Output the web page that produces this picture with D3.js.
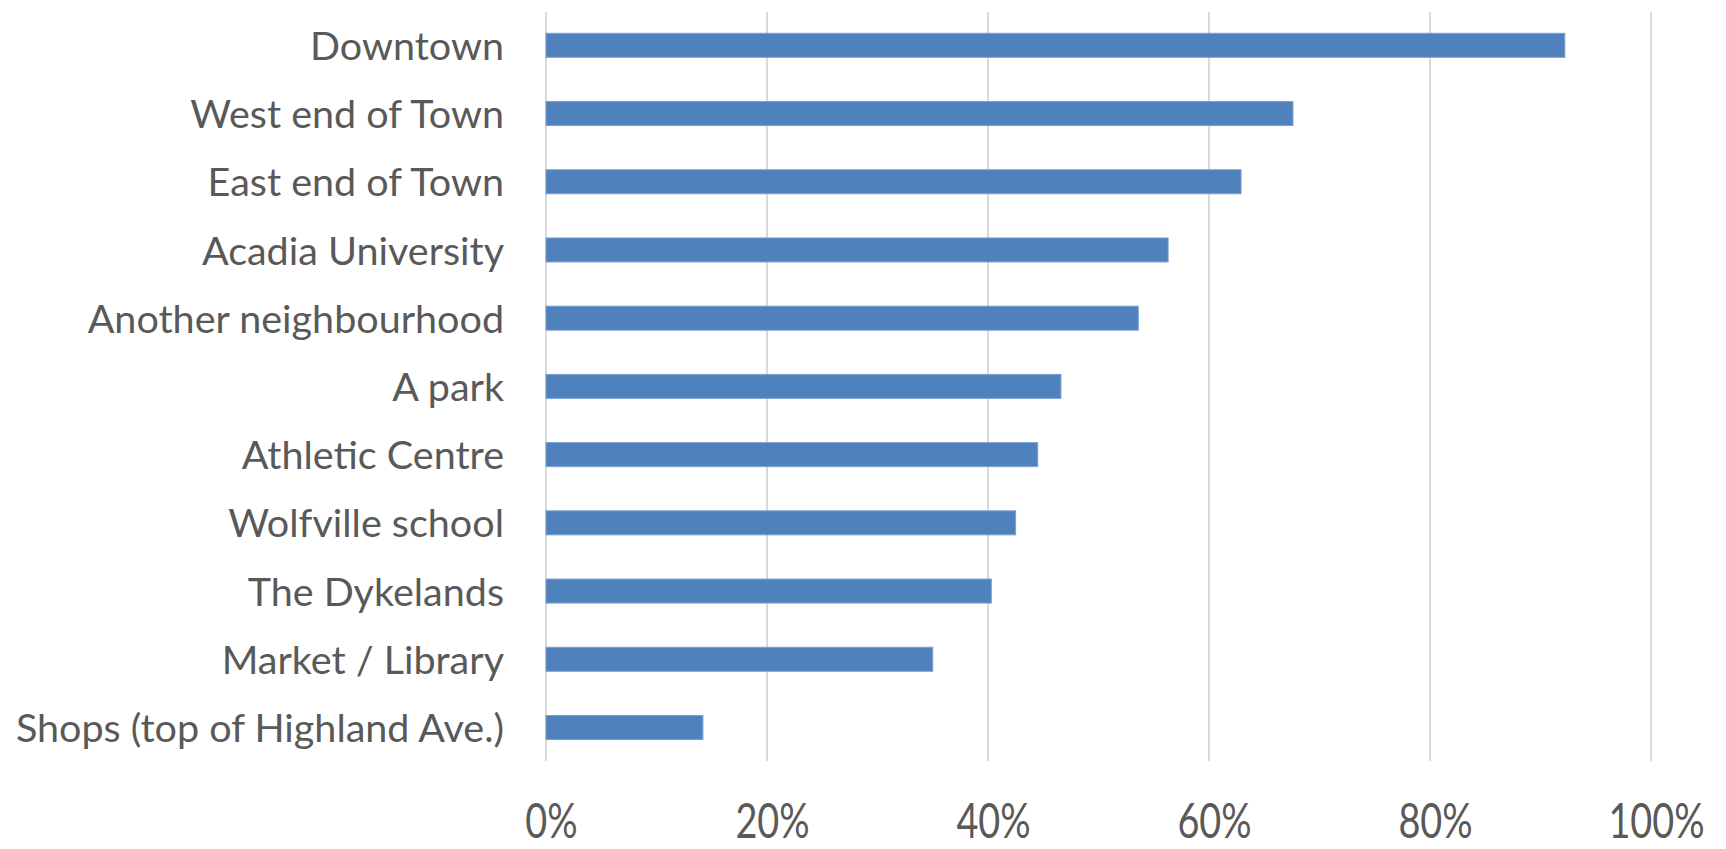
<!DOCTYPE html>
<html>
<head>
<meta charset="utf-8">
<script src="https://cdn.jsdelivr.net/npm/d3@7"></script>
<style>
  html, body { margin: 0; padding: 0; background: #ffffff; }
  svg { display: block; }
  .cat text { font-family: Lato, "Open Sans", sans-serif; fill: #595959; }
  .pct text { font-family: Lato, "Open Sans", sans-serif; fill: #595959; }
</style>
</head>
<body>
<svg id="chart" width="1726" height="849"></svg>
<script>
// Places in town, share of respondents
const categories = [
  "Downtown",
  "West end of Town",
  "East end of Town",
  "Acadia University",
  "Another neighbourhood",
  "A park",
  "Athletic Centre",
  "Wolfville school",
  "The Dykelands",
  "Market / Library",
  "Shops (top of Highland Ave.)"
];
const values = [0.922, 0.676, 0.629, 0.563, 0.536, 0.466, 0.445, 0.425, 0.403, 0.350, 0.142];
const xTicks = [0, 0.2, 0.4, 0.6, 0.8, 1.0];

const svg = d3.select("#chart");

const x = d3.scaleLinear().domain([0, 1]).range([546, 1651]);
const y = d3.scaleBand()
  .domain(categories)
  .range([11.2, 761.6])
  .paddingInner(0.648)
  .paddingOuter(0.324);

// vertical gridlines
svg.append("g")
  .selectAll("line")
  .data(xTicks)
  .join("line")
  .attr("x1", d => x(d))
  .attr("x2", d => x(d))
  .attr("y1", 12)
  .attr("y2", 761)
  .attr("stroke", "#d9d9d9")
  .attr("stroke-width", 2);

// bars
svg.append("g")
  .selectAll("rect")
  .data(categories.map((c, i) => ({ c, v: values[i] })))
  .join("rect")
  .attr("x", x(0))
  .attr("y", d => y(d.c))
  .attr("width", d => x(d.v) - x(0))
  .attr("height", y.bandwidth())
  .attr("fill", "#4f81bd")
  .attr("stroke", "#7aa0d0")
  .attr("stroke-width", 1);

// category axis
const yAxis = svg.append("g")
  .attr("class", "cat")
  .attr("transform", `translate(${x(0)},0)`)
  .call(d3.axisLeft(y).tickSize(0).tickPadding(42));
yAxis.select(".domain").remove();
yAxis.selectAll("text")
  .attr("font-size", 39.5)
  .attr("dy", "0.37em");

// percentage axis
const xAxis = svg.append("g")
  .attr("class", "pct")
  .attr("transform", "translate(0,838)")
  .call(d3.axisBottom(x).tickValues(xTicks).tickFormat(d3.format(".0%")).tickSize(0));
xAxis.select(".domain").remove();
xAxis.selectAll("text")
  .attr("font-size", 44)
  .attr("y", 0)
  .attr("dy", 0)
  .attr("transform", "translate(5,0) scale(0.86,1.1)");
</script>
</body>
</html>
